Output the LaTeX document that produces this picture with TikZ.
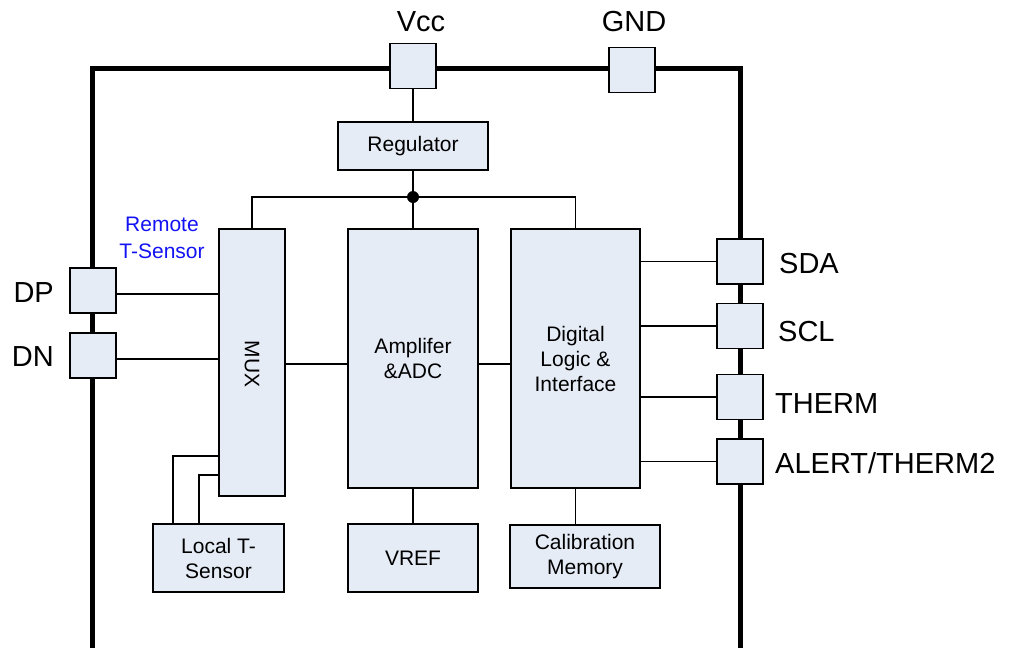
\documentclass[tikz,border=0pt]{standalone}
\usepackage{fontspec}
\setmainfont{Liberation Sans}
\usepackage{tikz}
\usetikzlibrary{positioning}
\definecolor{BlkFill}{HTML}{E6ECF6}
\definecolor{SensorBlue}{HTML}{1212F2}

\tikzset{
  blk/.style={draw,fill=BlkFill,line width=1.6pt,inner sep=0pt,align=center,
              font=\fontsize{21}{25}\selectfont},
  pin/.style={draw,fill=BlkFill,line width=1.6pt,minimum width=46pt,
              minimum height=45pt,inner sep=0pt},
  pinlbl/.style={font=\fontsize{29}{33}\selectfont,inner sep=0pt},
  wire/.style={line width=1.6pt},
}

\begin{document}
\begin{tikzpicture}[x=1pt,y=-1pt]
        \useasboundingbox (0,0) rectangle (1027,648);
        % package outline
        \draw[line width=5pt] (92,648) -- (92,68) -- (740,68) -- (740,648);

        % pins
        \node[pin] (vcc) at (413,66) {};
        \node[pin] (gnd) at (632,70) {};
        \node[pin] (dp) at (93,290.5) {};
        \node[pin] (dn) at (93,355.5) {};
        \node[pin] (sda) at (740,261.5) {};
        \node[pin] (scl) at (740,326) {};
        \node[pin] (therm) at (740,397) {};
        \node[pin] (alert) at (740,461.5) {};

        \node[pinlbl] (vcclbl) at (421,22) {Vcc};
        \node[pinlbl] (gndlbl) at (634,22) {GND};
        \node[pinlbl,anchor=east] (dplbl) at (54,293) {DP};
        \node[pinlbl,anchor=east] (dnlbl) at (54,357) {DN};
        \node[pinlbl,anchor=west] (sdalbl) at (779,264) {SDA};
        \node[pinlbl,anchor=west] (scllbl) at (778,332) {SCL};
        \node[pinlbl,anchor=west] (thermlbl) at (775,404) {THERM};
        \node[pinlbl,anchor=west] (alertlbl) at (775,463) {ALERT/THERM2};

        % blocks
        \node[blk,minimum width=150pt,minimum height=48pt] (reg) at (413,146) {Regulator};
        \node[blk,minimum width=66pt,minimum height=267pt] (mux) at (252,362.5) {};
        \node[rotate=-90,font=\fontsize{21}{25}\selectfont] (muxlbl) at (252,364) {MUX};
        \node[blk,minimum width=130pt,minimum height=259pt] (amp) at (413,358.5) {Amplifer\\\&ADC};
        \node[blk,minimum width=129pt,minimum height=259pt] (dig) at (575.5,358.5)
          {Digital\\Logic \&\\Interface};
        \node[blk,minimum width=131pt,minimum height=68pt] (loc) at (218.5,558) {Local T-\\Sensor};
        \node[blk,minimum width=130pt,minimum height=68pt] (vref) at (413,558) {VREF};
        \node[blk,minimum width=150pt,minimum height=63pt] (cal) at (585,556.5)
          {Calibration\\Memory};
        \node[text=SensorBlue,align=center,font=\fontsize{21}{27}\selectfont] (rmt)
          at (162,238) {Remote\\T-Sensor};

        % supply
        \coordinate (jn) at (413,197);
        \draw[wire] (vcc.south) -- (reg.north);
        \draw[wire] (reg.south) -- (jn) -- (amp.north);
        \draw[wire] (mux.north) |- (jn) -| (dig.north);
        \fill (jn) circle (6pt);

        % signals
        \draw[wire] ([yshift=-3.5pt]dp.east) -- ([yshift=-3.5pt]dp.east -| mux.west);
        \draw[wire] ([yshift=-3.5pt]dn.east) -- ([yshift=-3.5pt]dn.east -| mux.west);
        \draw[wire] ([yshift=-5.5pt]amp.west -| mux.east) -- ([yshift=-5.5pt]amp.west);
        \draw[wire] ([yshift=-5.5pt]amp.east) -- ([yshift=-5.5pt]amp.east -| dig.west);
        \draw[wire] (sda.west -| dig.east) -- (sda.west);
        \draw[wire] (scl.west -| dig.east) -- (scl.west);
        \draw[wire] (therm.west -| dig.east) -- (therm.west);
        \draw[wire] (alert.west -| dig.east) -- (alert.west);
        \draw[wire] ([xshift=-45.5pt]loc.north) |- ([yshift=-93.5pt]mux.west);
        \draw[wire] ([xshift=-19.5pt]loc.north) |- ([yshift=-112.5pt]mux.west);
        \draw[wire] (amp.south) -- (vref.north);
        \draw[wire] (dig.south) -- (dig.south |- cal.north);
      \end{tikzpicture}
\end{document}
